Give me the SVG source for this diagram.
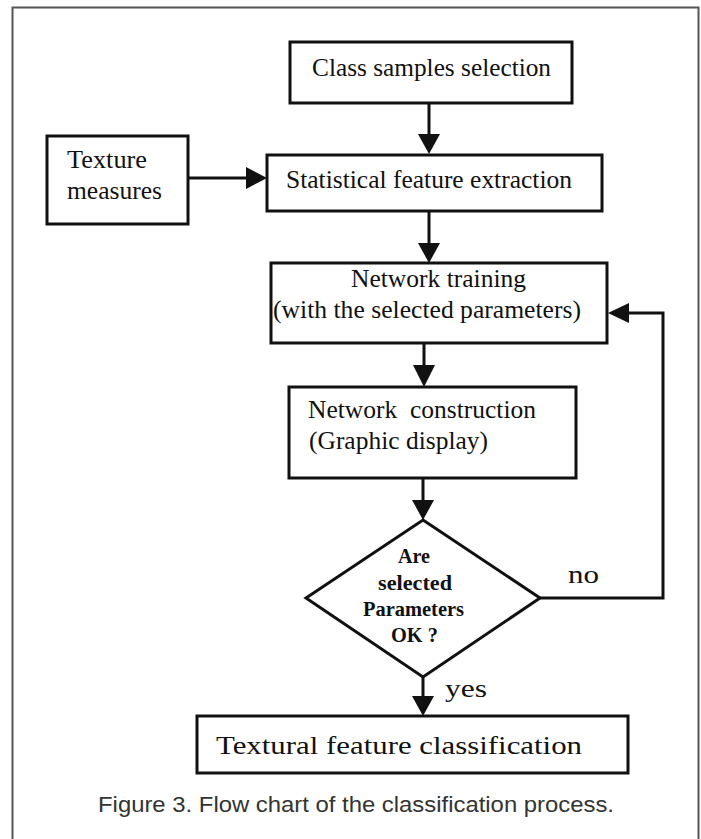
<svg xmlns="http://www.w3.org/2000/svg" width="701" height="839" viewBox="0 0 701 839">
<style>
.box{fill:#fff;stroke:#111;stroke-width:3}
.ln{fill:none;stroke:#111;stroke-width:3}
.ah{fill:#111;stroke:none}
.t{font-family:"Liberation Serif","Times New Roman",serif;font-size:26px;fill:#111;white-space:pre}
.d{font-family:"Liberation Serif","Times New Roman",serif;font-size:20px;font-weight:bold;fill:#111}
.cap{font-family:"Liberation Sans",Arial,sans-serif;font-size:22px;fill:#333}
</style>
<rect x="0" y="0" width="701" height="839" fill="#fff"/>
<rect x="12.5" y="7.5" width="686" height="850" fill="none" stroke="#555" stroke-width="2"/>
<g id="connectors">
<line class="ln" x1="429" y1="103" x2="429" y2="136"/>
<polygon class="ah" points="418,134 440,134 429,154"/>
<line class="ln" x1="188" y1="178" x2="248" y2="178"/>
<polygon class="ah" points="246,167 246,189 267,178"/>
<line class="ln" x1="429" y1="211" x2="429" y2="245"/>
<polygon class="ah" points="418,243 440,243 429,263"/>
<line class="ln" x1="424" y1="343" x2="424" y2="367"/>
<polygon class="ah" points="413,365 435,365 424,387"/>
<line class="ln" x1="423" y1="478" x2="423" y2="502"/>
<polygon class="ah" points="412,500 434,500 423,520"/>
<line class="ln" x1="423" y1="677" x2="423" y2="698"/>
<polygon class="ah" points="412,696 434,696 423,716"/>
<polyline class="ln" points="540,598 663,598 663,313 626,313" stroke-width="3.5"/>
<polygon class="ah" points="629,303 629,323 608,313"/>
<text class="t" x="568" y="583" font-size="28" textLength="31" lengthAdjust="spacingAndGlyphs">no</text>
<text class="t" x="445" y="697" font-size="28" textLength="42" lengthAdjust="spacingAndGlyphs">yes</text>
</g>
<g id="class-samples">
<rect class="box" x="290" y="42" width="282" height="61" stroke-width="3.5"/>
<text class="t" x="312" y="76" textLength="239" lengthAdjust="spacingAndGlyphs">Class samples selection</text>
</g>
<g id="texture-measures">
<rect class="box" x="47" y="136" width="141" height="88"/>
<text class="t" x="67" y="168" textLength="80" lengthAdjust="spacingAndGlyphs">Texture</text>
<text class="t" x="67" y="199" textLength="95" lengthAdjust="spacingAndGlyphs">measures</text>
</g>
<g id="statistical">
<rect class="box" x="267" y="155" width="335" height="56"/>
<text class="t" x="286" y="188" textLength="286" lengthAdjust="spacingAndGlyphs">Statistical feature extraction</text>
</g>
<g id="network-training">
<rect class="box" x="271" y="263" width="336" height="80"/>
<text class="t" x="351" y="287" textLength="175" lengthAdjust="spacingAndGlyphs">Network training</text>
<text class="t" x="273" y="318" textLength="308" lengthAdjust="spacingAndGlyphs">(with the selected parameters)</text>
</g>
<g id="network-construction">
<rect class="box" x="289" y="387" width="287" height="91"/>
<text class="t" x="308" y="418" textLength="228" lengthAdjust="spacingAndGlyphs">Network  construction</text>
<text class="t" x="309" y="449" textLength="179" lengthAdjust="spacingAndGlyphs">(Graphic display)</text>
</g>
<g id="decision">
<polygon class="box" points="423,520 540,598 423,677 306,598"/>
<text class="d" x="398" y="563" textLength="32" lengthAdjust="spacingAndGlyphs">Are</text>
<text class="d" x="378" y="590" textLength="74" lengthAdjust="spacingAndGlyphs">selected</text>
<text class="d" x="363" y="616" textLength="101" lengthAdjust="spacingAndGlyphs">Parameters</text>
<text class="d" x="391" y="642" textLength="47" lengthAdjust="spacingAndGlyphs">OK ?</text>
</g>
<g id="textural">
<rect class="box" x="197" y="716" width="431" height="57"/>
<text class="t" x="216" y="754" font-size="31" textLength="366" lengthAdjust="spacingAndGlyphs">Textural feature classification</text>
</g>
<text class="cap" x="98" y="812" textLength="516" lengthAdjust="spacingAndGlyphs">Figure 3. Flow chart of the classification process.</text>
</svg>
